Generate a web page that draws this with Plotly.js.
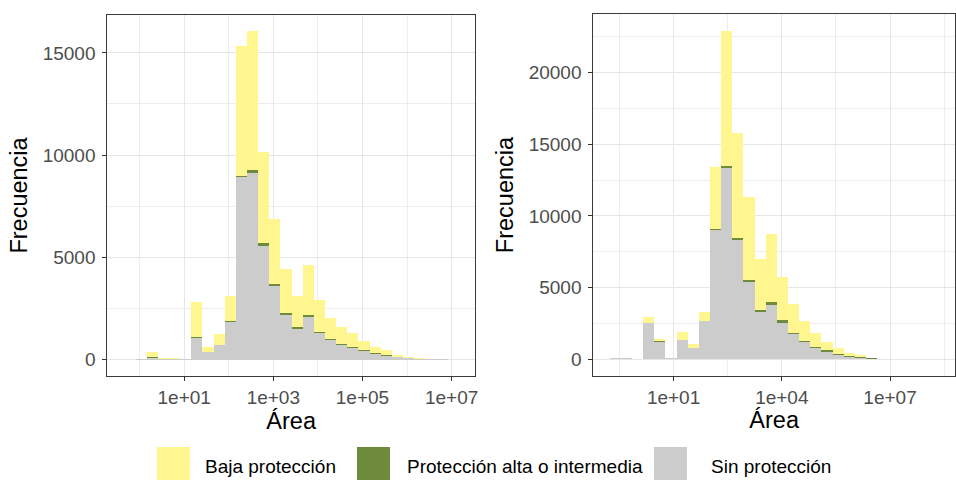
<!DOCTYPE html>
<html>
<head>
<meta charset="utf-8">
<script src="https://cdn.plot.ly/plotly-3.0.1.min.js"></script>
<style>
  html, body { margin: 0; padding: 0; background: #ffffff; }
  #chart { width: 956px; height: 480px; }
</style>
</head>
<body>
<div id="chart"></div>
<script>
// ---------- DATA ----------
// Lower edge of each histogram bin, in log10(Área)
const leftBinStart = [-0.34, -0.09, 0.16, 0.41, 0.66, 0.91, 1.16, 1.41, 1.66, 1.91,
  2.16, 2.41, 2.66, 2.91, 3.16, 3.41, 3.66, 3.91, 4.16, 4.41,
  4.66, 4.91, 5.16, 5.41, 5.66, 5.91, 6.16, 6.41, 6.66, 6.91];
const leftBinEnd = 7.16;

const leftSin  = [0, 15, 100, 40, 30, 25, 1080, 360, 710, 1840,
  8930, 9110, 5560, 3620, 2200, 1520, 2100, 1310, 945, 720,
  560, 410, 265, 190, 105, 55, 30, 14, 6, 1];
const leftAlta = [0, 0, 3, 2, 1, 1, 10, 5, 15, 30,
  70, 150, 120, 90, 70, 60, 80, 60, 55, 55,
  50, 45, 35, 30, 20, 12, 8, 4, 2, 1];
const leftBaja = [0, 5, 257, 38, 29, 24, 1730, 230, 515, 1230,
  6320, 6790, 4450, 3185, 2140, 1520, 2435, 1530, 1040, 825,
  695, 445, 320, 240, 120, 63, 42, 15, 8, 1];

const rightBinStart = [-0.772, -0.463, -0.154, 0.155, 0.464, 0.773, 1.082, 1.391, 1.700, 2.009,
  2.318, 2.627, 2.936, 3.245, 3.554, 3.863, 4.172, 4.481, 4.790, 5.099,
  5.408, 5.717, 6.026, 6.335, 6.644, 6.953, 7.262, 7.571, 7.880, 8.189];
const rightBinEnd = 8.498;

const rightSin  = [75, 90, 8, 2510, 1230, 90, 1350, 770, 2670, 9020,
  13330, 8330, 5420, 3330, 3790, 2560, 1745, 1185, 770, 535,
  300, 165, 95, 45, 20, 6, 2, 1, 0, 0];
const rightAlta = [0, 0, 0, 15, 10, 2, 10, 5, 20, 80,
  165, 100, 115, 115, 230, 185, 115, 95, 90, 115,
  95, 70, 45, 25, 10, 4, 2, 0, 0, 0];
const rightBaja = [5, 30, 2, 405, 160, 8, 550, 295, 640, 4300,
  9415, 7340, 5765, 3555, 4730, 3025, 2000, 1420, 950, 580,
  420, 230, 160, 45, 17, 5, 2, 1, 0, 1];

const seriesNames = ["Baja protección", "Protección alta o intermedia", "Sin protección"];
const seriesColors = ["#FFF68F", "#6E8B3D", "#CCCCCC"];

const leftTickVals = [1, 3, 5, 7];
const leftTickText = ["1e+01", "1e+03", "1e+05", "1e+07"];
const leftMinorX = [0, 2, 4, 6];
const rightTickVals = [1, 4, 7];
const rightTickText = ["1e+01", "1e+04", "1e+07"];
const rightMinorX = [-0.5, 2.5, 5.5, 8.5];

const leftYTicks = [0, 5000, 10000, 15000];
const leftMinorY = [2500, 7500, 12500];
const rightYTicks = [0, 5000, 10000, 15000, 20000];
const rightMinorY = [2500, 7500, 12500, 17500, 22500];

// ---------- BUILD ----------
function geometry(starts, end) {
  const centers = [], widths = [];
  for (let i = 0; i < starts.length; i++) {
    const hi = (i + 1 < starts.length) ? starts[i + 1] : end;
    centers.push((starts[i] + hi) / 2);
    widths.push(hi - starts[i]);
  }
  return {centers, widths};
}
const gL = geometry(leftBinStart, leftBinEnd);
const gR = geometry(rightBinStart, rightBinEnd);

function barTrace(g, y, idx, xa, ya) {
  return {
    type: "bar", x: g.centers, y: y, width: g.widths,
    name: seriesNames[idx], xaxis: xa, yaxis: ya,
    marker: {color: seriesColors[idx], line: {width: 0}},
    showlegend: false, hoverinfo: "x+y+name"
  };
}

const traces = [
  barTrace(gL, leftSin, 2, "x", "y"),
  barTrace(gL, leftAlta, 1, "x", "y"),
  barTrace(gL, leftBaja, 0, "x", "y"),
  barTrace(gR, rightSin, 2, "x2", "y2"),
  barTrace(gR, rightAlta, 1, "x2", "y2"),
  barTrace(gR, rightBaja, 0, "x2", "y2")
];

const FONT = "Liberation Sans, Arial, sans-serif";
const W = 956, H = 480;
const grid = "#E6E6E6";

function xAxis(dom, range, tv, tt, minor) {
  return {
    domain: dom, range: range, type: "linear",
    tickmode: "array", tickvals: tv, ticktext: tt,
    ticks: "outside", ticklen: 4, tickwidth: 1, tickcolor: "#333333",
    tickfont: {family: FONT, size: 19, color: "#4D4D4D"},
    ticklabelstandoff: 0,
    showgrid: true, gridcolor: grid, gridwidth: 1,
    minor: {tickmode: "array", tickvals: minor, showgrid: true, gridcolor: grid, gridwidth: 0.7, ticks: ""},
    showline: true, mirror: true, linecolor: "#3a3a3a", linewidth: 1,
    zeroline: false, automargin: false, fixedrange: true,
    title: {text: "Área", font: {family: FONT, size: 23.5, color: "#000000"}, standoff: 2}
  };
}
function yAxis(dom, range, tv, minor, anchor) {
  return {
    domain: dom, range: range, anchor: anchor,
    tickmode: "array", tickvals: tv, tickformat: "d",
    ticks: "outside", ticklen: 4, tickwidth: 1, tickcolor: "#333333",
    tickfont: {family: FONT, size: 19, color: "#4D4D4D"},
    ticklabelstandoff: 3,
    showgrid: true, gridcolor: grid, gridwidth: 1,
    minor: {tickmode: "array", tickvals: minor, showgrid: true, gridcolor: grid, gridwidth: 0.7, ticks: ""},
    showline: true, mirror: true, linecolor: "#3a3a3a", linewidth: 1,
    zeroline: false, automargin: false, fixedrange: true,
    title: {text: "Frecuencia", font: {family: FONT, size: 23.5, color: "#000000"}, standoff: 8}
  };
}

const yDom = [(H - 376) / H, (H - 15) / H];
const layout = {
  width: W, height: H,
  margin: {l: 0, r: 0, t: 0, b: 0},
  paper_bgcolor: "#ffffff", plot_bgcolor: "#ffffff",
  barmode: "stack", bargap: 0,
  font: {family: FONT},
  showlegend: false,
  xaxis: xAxis([107.3 / W, 475 / W], [-0.725, 7.525], leftTickVals, leftTickText, leftMinorX),
  yaxis: yAxis(yDom, [-802, 16852], leftYTicks, leftMinorY, "x"),
  xaxis2: Object.assign(xAxis([593.3 / W, 955 / W], [-1.225, 8.80], rightTickVals, rightTickText, rightMinorX), {anchor: "y2"}),
  yaxis2: yAxis([(H - 375.7) / H, (H - 14.3) / H], [-1146, 24057], rightYTicks, rightMinorY, "x2"),
  shapes: [], annotations: []
};
layout.xaxis.anchor = "y";

// Manual legend (large ggplot-style keys)
const keyX = [157, 357, 654];
const labelX = [203, 405, 709];
for (let i = 0; i < seriesNames.length; i++) {
  layout.shapes.push({
    type: "rect", xref: "paper", yref: "paper",
    x0: keyX[i] / W, x1: (keyX[i] + 33) / W,
    y0: (H - 480) / H, y1: (H - 447) / H,
    fillcolor: seriesColors[i], line: {width: 0}, layer: "above"
  });
  layout.annotations.push({
    xref: "paper", yref: "paper", x: labelX[i] / W, y: (H - 466) / H,
    xanchor: "left", yanchor: "middle", showarrow: false,
    text: seriesNames[i], font: {family: FONT, size: 19, color: "#000000"}
  });
}

Plotly.newPlot("chart", traces, layout, {displayModeBar: false, staticPlot: true});
</script>
</body>
</html>
